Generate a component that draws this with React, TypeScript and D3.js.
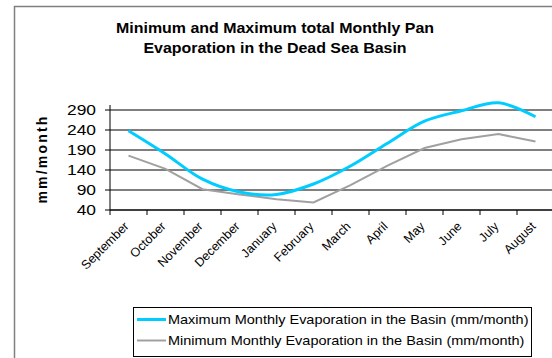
import React from "react";
import * as d3 from "d3";

// Monthly pan evaporation, mm/month
const months = [
  "September", "October", "November", "December", "January", "February",
  "March", "April", "May", "June", "July", "August",
];
const maxEvaporation = [238, 180, 117, 85, 79, 105, 150, 207, 262, 288, 308, 273];
const minEvaporation = [176, 143, 92, 79, 67, 59, 102, 151, 195, 217, 230, 211];
const yTicks = [40, 90, 140, 190, 240, 290];

const titleLines = [
  "Minimum and Maximum total Monthly Pan",
  "Evaporation in the Dead Sea Basin",
];
const legendLabels = [
  "Maximum Monthly Evaporation in the Basin (mm/month)",
  "Minimum Monthly Evaporation in the Basin (mm/month)",
];

const W = 552;
const H = 358;
const FONT = "'Liberation Sans', Arial, sans-serif";
const MAX_COLOR = "#00ccff";
const MIN_COLOR = "#a0a0a0";

export default function App() {
  const plot = { left: 110, right: 554, top: 110, bottom: 210 };

  const x = d3.scaleBand<string>().domain(months).range([plot.left, plot.right]);
  const y = d3.scaleLinear().domain([40, 290]).range([plot.bottom, plot.top]);
  const cx = (m: string) => (x(m) ?? 0) + x.bandwidth() / 2;

  const maxLine = d3
    .line<number>()
    .x((_, i) => cx(months[i]))
    .y((v) => y(v))
    .curve(d3.curveCatmullRom.alpha(0.5));
  const minLine = d3
    .line<number>()
    .x((_, i) => cx(months[i]))
    .y((v) => y(v))
    .curve(d3.curveLinear);

  const tickXs = d3.range(months.length + 1).map((i) => plot.left + i * x.step());

  return (
    <svg
      width={W}
      height={H}
      style={{ position: "absolute", left: 0, top: 0, background: "#fff" }}
      fontFamily={FONT}
    >
      {/* chart frame */}
      <rect x={14.5} y={6.5} width={W + 20} height={H + 20} fill="#fff" stroke="#808080" strokeWidth={1.5} />

      {/* title */}
      {titleLines.map((t, i) => (
        <text
          key={t}
          transform={`translate(275,${33 + i * 20}) scale(1.1,1)`}
          textAnchor="middle"
          fontSize={14.5}
          fontWeight="bold"
          fill="#000"
        >
          {t}
        </text>
      ))}

      {/* y axis title */}
      <text
        transform={`translate(47,${(plot.top + plot.bottom) / 2 - 1}) rotate(-90)`}
        textAnchor="middle"
        fontSize={14}
        fontWeight="bold"
        letterSpacing={2.2}
      >
        mm/month
      </text>

      {/* gridlines and y ticks */}
      {yTicks.map((t) => (
        <g key={t}>
          <line x1={plot.left - 5} x2={plot.right} y1={y(t)} y2={y(t)} stroke="#000" strokeWidth={1} />
          <text
            transform={`translate(96,${y(t) + 5}) scale(1.2,1)`}
            textAnchor="end"
            fontSize={14.5}
            fill="#000"
          >
            {t}
          </text>
        </g>
      ))}

      {/* axes */}
      <line x1={plot.left} x2={plot.left} y1={plot.top - 5} y2={plot.bottom} stroke="#000" />
      <line x1={plot.left} x2={plot.right} y1={plot.bottom} y2={plot.bottom} stroke="#000" />
      {tickXs.map((tx, i) => (
        <line key={i} x1={tx} x2={tx} y1={plot.bottom} y2={plot.bottom + 5} stroke="#000" />
      ))}

      {/* month labels */}
      {months.map((m) => (
        <text
          key={m}
          transform={`translate(${cx(m) + 1},${plot.bottom + 17}) rotate(-45)`}
          textAnchor="end"
          fontSize={12.5}
          fill="#000"
        >
          {m}
        </text>
      ))}

      {/* series */}
      <path d={minLine(minEvaporation) ?? ""} fill="none" stroke={MIN_COLOR} strokeWidth={2} />
      <path d={maxLine(maxEvaporation) ?? ""} fill="none" stroke={MAX_COLOR} strokeWidth={3} />

      {/* legend */}
      <rect x={133.5} y={307.5} width={398} height={49} fill="#fff" stroke="#000" />
      {legendLabels.map((l, i) => {
        const ly = 319.5 + i * 21;
        return (
          <g key={l}>
            <line
              x1={137}
              x2={166}
              y1={ly}
              y2={ly}
              stroke={i === 0 ? MAX_COLOR : MIN_COLOR}
              strokeWidth={i === 0 ? 3 : 2}
            />
            <text
              transform={`translate(168,${ly + 4.5}) scale(1.16,1)`}
              fontSize={12.5}
              fill="#000"
            >
              {l}
            </text>
          </g>
        );
      })}
    </svg>
  );
}
